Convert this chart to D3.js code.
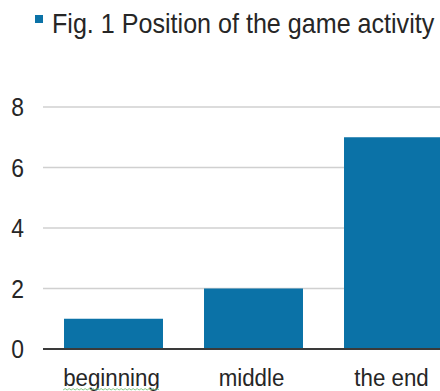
<!DOCTYPE html>
<html>
<head>
<meta charset="utf-8">
<script src="https://cdn.jsdelivr.net/npm/d3@7"></script>
<style>
  html, body { margin: 0; padding: 0; background: #ffffff; }
  svg { display: block; }
  text { font-family: "Liberation Sans", Arial, sans-serif; fill: #262626; }
</style>
</head>
<body>
<svg id="chart" width="440" height="391"></svg>
<script>
// Position of the game activity within the lesson (number of cases)
const categories = ["beginning", "middle", "the end"];
const counts = [1, 2, 7];
const yTicks = [0, 2, 4, 6, 8];
const seriesName = "Fig. 1 Position of the game activity";

const W = 440, H = 391;
const barColor = "#0b72a7";

const svg = d3.select("#chart");

// Plot area runs past the right edge, so the last column is clipped
const x = d3.scaleBand()
  .domain(categories)
  .range([43.5, 463.5])
  .paddingInner(0.293)
  .paddingOuter(0.1465);

const y = d3.scaleLinear()
  .domain([0, 8])
  .range([349, 107]);

// Horizontal gridlines
svg.append("g")
  .selectAll("line")
  .data(yTicks.filter(d => d > 0))
  .join("line")
  .attr("x1", 43)
  .attr("x2", W)
  .attr("y1", d => y(d))
  .attr("y2", d => y(d))
  .attr("stroke", "#d0d0d0")
  .attr("stroke-width", 1.6);

// Value axis labels (slightly condensed, right-aligned)
svg.append("g")
  .selectAll("text")
  .data(yTicks)
  .join("text")
  .attr("transform", d => `translate(24,${y(d) + 9}) scale(0.88,1)`)
  .attr("text-anchor", "end")
  .attr("font-size", 26)
  .text(d => d3.format("d")(d));

// Bars
svg.append("g")
  .selectAll("rect")
  .data(categories.map((c, i) => ({ c, v: counts[i] })))
  .join("rect")
  .attr("x", d => x(d.c))
  .attr("width", x.bandwidth())
  .attr("y", d => y(d.v))
  .attr("height", d => y(0) - y(d.v))
  .attr("fill", barColor);

// Category axis line
svg.append("line")
  .attr("x1", 43)
  .attr("x2", W)
  .attr("y1", y(0))
  .attr("y2", y(0))
  .attr("stroke", "#3a3a3a")
  .attr("stroke-width", 2);

// Category labels
const labelX = d => x(d) + x.bandwidth() / 2 - 2;
const xLabels = svg.append("g")
  .selectAll("text")
  .data(categories)
  .join("text")
  .attr("transform", d => `translate(${labelX(d)},386) scale(0.93,1)`)
  .attr("text-anchor", "middle")
  .attr("font-size", 24)
  .text(d => d);

// Spell-check squiggle under the first label
const firstW = xLabels.filter((d, i) => i === 0).node().getBBox().width * 0.93;
const cx0 = labelX(categories[0]);
const sx0 = cx0 - firstW / 2, sx1 = cx0 + firstW / 2;
const sq = d3.path();
sq.moveTo(sx0, 390);
let up = true;
for (let px = sx0 + 2; px <= sx1; px += 2) {
  sq.lineTo(px, up ? 388.6 : 390);
  up = !up;
}
svg.append("path")
  .attr("d", sq.toString())
  .attr("fill", "none")
  .attr("stroke", "#7cc27c")
  .attr("stroke-width", 0.9);

// Legend / title
svg.append("rect")
  .attr("x", 35)
  .attr("y", 15)
  .attr("width", 8)
  .attr("height", 8)
  .attr("fill", barColor);

svg.append("text")
  .attr("transform", "translate(52,33) scale(0.93,1)")
  .attr("font-size", 27)
  .text(seriesName);
</script>
</body>
</html>
